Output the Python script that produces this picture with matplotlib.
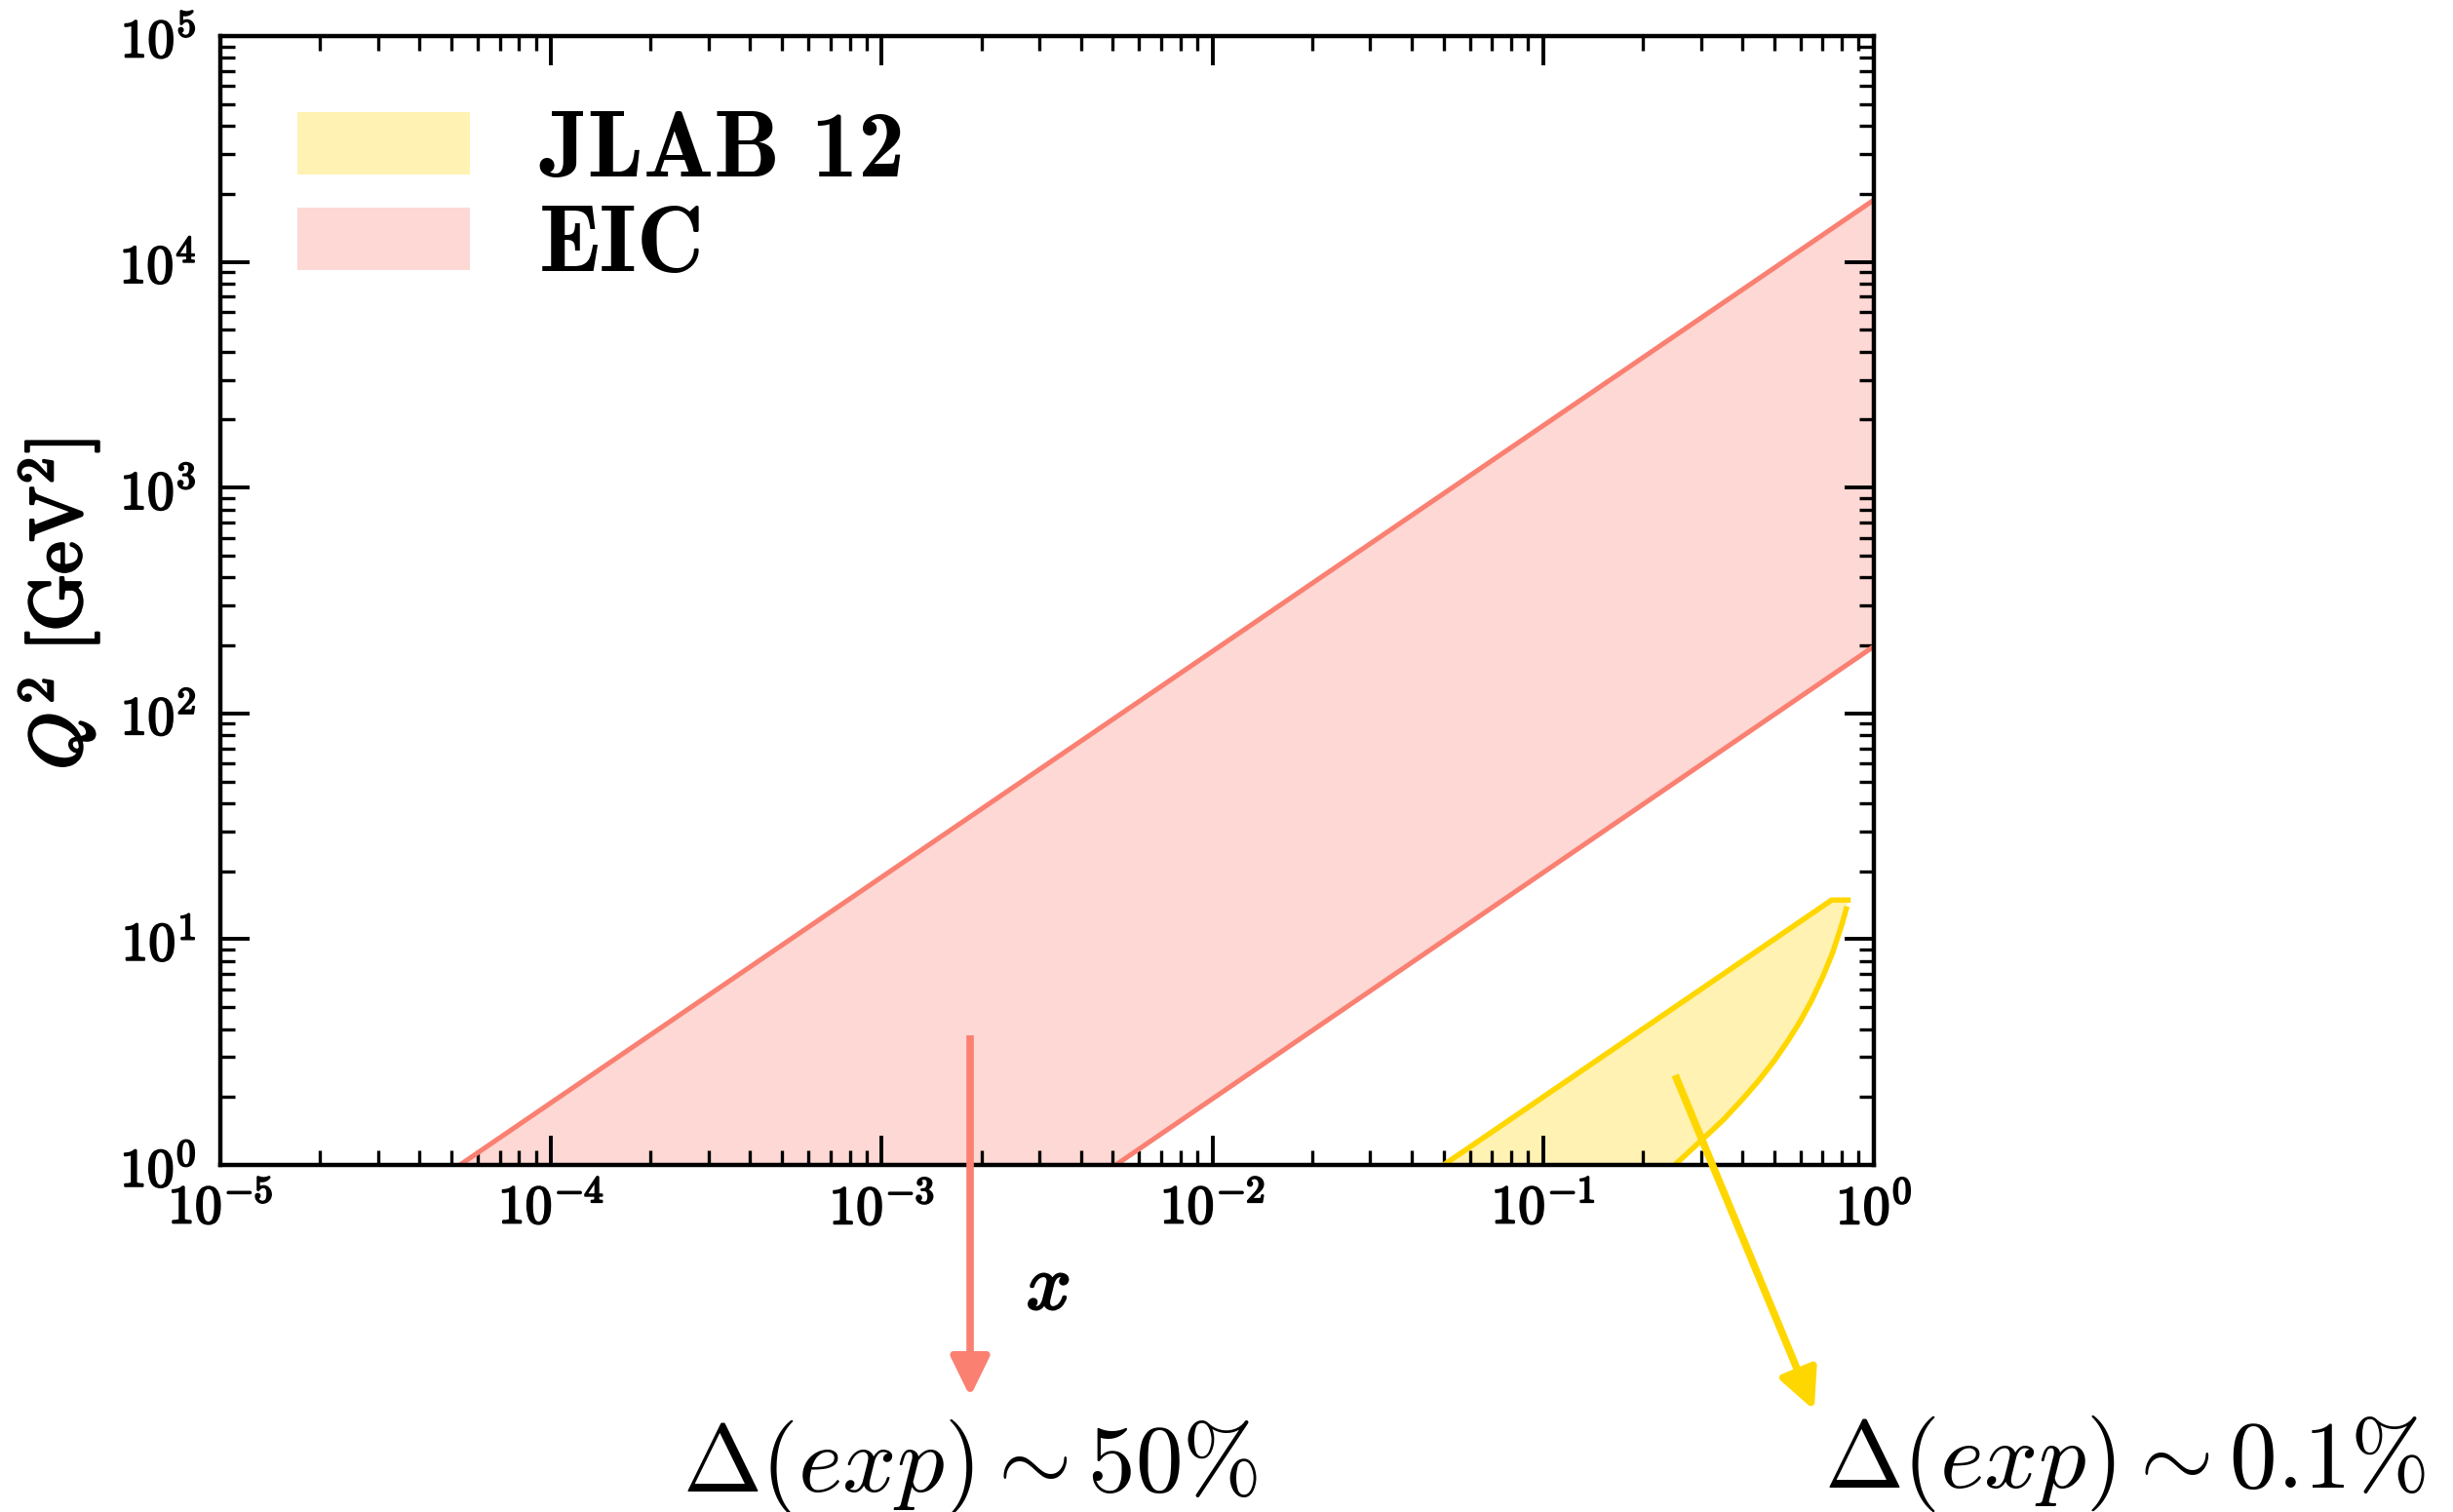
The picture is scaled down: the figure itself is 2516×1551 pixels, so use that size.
import numpy as np
import matplotlib
matplotlib.use("Agg")
import matplotlib.pyplot as plt
from matplotlib.patches import Patch
from matplotlib.ticker import LogLocator, FuncFormatter, NullFormatter
import matplotlib.patheffects as pe

plt.rcParams["mathtext.fontset"] = "cm"
plt.rcParams["font.family"] = ["DejaVu Serif"]

# ---- kinematic coverage (x, Q^2 in GeV^2) ----
# EIC band: upper and lower boundaries, cut at Q^2 = 1
eic_upper_x = [5.3e-5, 1.0]
eic_upper_q2 = [1.0, 1.88e4]
eic_lower_x = [5.1e-3, 1.0]
eic_lower_q2 = [1.0, 198.0]

# JLAB 12 region: upper edge and the W cut on the right
jlab_top_x = [0.05, 0.745, 0.835]
jlab_top_q2 = [1.0, 14.9, 14.9]
jlab_curve_x = [0.825, 0.80, 0.75, 0.70, 0.65, 0.60, 0.55, 0.50, 0.45, 0.40, 0.35, 0.30, 0.25]
jlab_curve_q2 = [13.6, 11.6, 8.7, 6.8, 5.4, 4.35, 3.55, 2.9, 2.38, 1.95, 1.58, 1.28, 1.0]
q2_min = 1.0

# arrows pointing at the uncertainty labels (start, tip)
eic_arrow = {"start": (1.85e-3, 3.75), "tip": (1.85e-3, 0.094)}
jlab_arrow = {"start": (0.2507, 2.50), "tip": (0.660, 0.082)}

labels = ["JLAB 12", "EIC"]
uncert_labels = [r"$\Delta(exp) \sim 50\%$", r"$\Delta(exp) \sim 0.1\%$"]

eic_color = "#FA8072"   # salmon
jlab_color = "#FFD700"  # gold

W, H = 2516, 1551
fig = plt.figure(figsize=(W / 100, H / 100), dpi=100)


def fpos(px, py):
    return px / W, 1 - py / H


embolden = [pe.withStroke(linewidth=1.5, foreground="black")]

ax = fig.add_axes([226 / W, 1 - 1195 / H, 1696 / W, 1158 / H])
ax.set_xscale("log")
ax.set_yscale("log")
ax.set_xlim(1e-5, 1e0)
ax.set_ylim(1e0, 1e5)

# EIC band
eic_poly_x = eic_upper_x + eic_lower_x[::-1]
eic_poly_y = eic_upper_q2 + eic_lower_q2[::-1]
ax.fill(eic_poly_x, eic_poly_y, facecolor=eic_color, alpha=0.3, edgecolor="none", zorder=1)
ax.plot(eic_upper_x, eic_upper_q2, color=eic_color, lw=3.6, zorder=2)
ax.plot(eic_lower_x, eic_lower_q2, color=eic_color, lw=3.6, zorder=2)
ax.plot([eic_upper_x[0], eic_lower_x[0]], [q2_min, q2_min], color=eic_color, lw=1.5, zorder=1.2)

# JLAB 12 region
jl_poly_x = jlab_top_x + jlab_curve_x
jl_poly_y = jlab_top_q2 + jlab_curve_q2
ax.fill(jl_poly_x, jl_poly_y, facecolor=jlab_color, alpha=0.3, edgecolor="none", zorder=1)
ax.plot(jlab_top_x, jlab_top_q2, color=jlab_color, lw=4.0, zorder=2)
ax.plot(jlab_curve_x, jlab_curve_q2, color=jlab_color, lw=4.0, zorder=2)
ax.plot([jlab_top_x[0], jlab_curve_x[-1]], [q2_min, q2_min], color=jlab_color, lw=1.5, zorder=1.2)

# arrows
for arr, col in ((eic_arrow, eic_color), (jlab_arrow, jlab_color)):
    ax.annotate("", xy=arr["tip"], xytext=arr["start"], xycoords="data",
                textcoords="data", annotation_clip=False,
                arrowprops=dict(arrowstyle="-|>,head_length=0.45,head_width=0.22",
                                color=col, lw=5.5, mutation_scale=55,
                                shrinkA=0, shrinkB=0, capstyle="butt"))

# ticks
for axis in (ax.xaxis, ax.yaxis):
    axis.set_major_locator(LogLocator(base=10, numticks=12))
    axis.set_minor_locator(LogLocator(base=10, subs=np.arange(2, 10), numticks=60))
    axis.set_minor_formatter(NullFormatter())
    axis.set_major_formatter(FuncFormatter(
        lambda v, p: r"$10^{%d}$" % int(round(np.log10(v)))))

ax.tick_params(which="both", direction="in", top=True, right=True)
ax.tick_params(which="major", length=21.6, width=2.8, labelsize=40)
ax.tick_params(which="minor", length=10.8, width=2.4)
ax.tick_params(axis="x", which="major", pad=12)
ax.tick_params(axis="y", which="major", pad=18)
for s in ax.spines.values():
    s.set_linewidth(3.2)
    s.set_zorder(2.5)

fig.canvas.draw()
for lab in ax.get_xticklabels() + ax.get_yticklabels():
    lab.set_path_effects(embolden)

# axis labels
fig.text(*fpos(1075, 1321), r"$x$", fontsize=58, ha="center", va="center",
         path_effects=[pe.withStroke(linewidth=1.8, foreground="black")])
fig.text(*fpos(60, 620), r"$Q^{2}\ [\mathrm{GeV}^{2}]$", fontsize=54,
         rotation=90, ha="center", va="center",
         path_effects=[pe.withStroke(linewidth=2.0, foreground="black")])

# uncertainty labels
fig.text(*fpos(995, 1530), uncert_labels[0], fontsize=70, ha="center", va="baseline")
fig.text(*fpos(2180, 1526), uncert_labels[1], fontsize=70, ha="center", va="baseline")

# legend
handles = [Patch(facecolor=jlab_color, alpha=0.3, edgecolor="none"),
           Patch(facecolor=eic_color, alpha=0.3, edgecolor="none")]
leg = ax.legend(handles, labels, loc="upper left", bbox_to_anchor=fpos(305, 114),
                bbox_transform=fig.transFigure, frameon=False,
                prop={"family": "cmb10", "size": 69},
                borderpad=0, borderaxespad=0, handlelength=1.85, handleheight=0.65,
                handletextpad=0.74, labelspacing=0.12)

fig.savefig("out.png", dpi=100)
